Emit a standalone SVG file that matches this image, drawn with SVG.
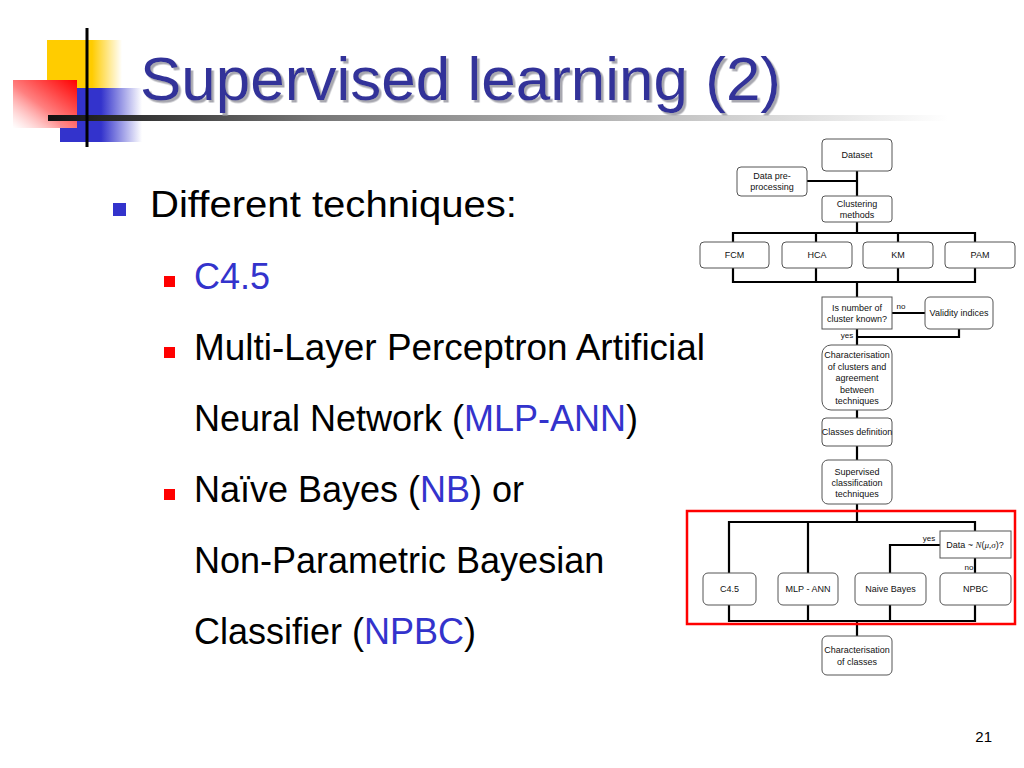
<svg xmlns="http://www.w3.org/2000/svg" width="1024" height="768" viewBox="0 0 1024 768">
<defs>
<linearGradient id="gY" x1="0" y1="0" x2="1" y2="0"><stop offset="0" stop-color="#FFCC00"/><stop offset="0.6" stop-color="#FFCC00"/><stop offset="1" stop-color="#FFCC00" stop-opacity="0"/></linearGradient>
<linearGradient id="gB" x1="0" y1="0" x2="1" y2="0"><stop offset="0" stop-color="#3333CC"/><stop offset="0.5" stop-color="#3333CC"/><stop offset="1" stop-color="#3333CC" stop-opacity="0"/></linearGradient>
<linearGradient id="gR" x1="1" y1="0" x2="0" y2="1"><stop offset="0" stop-color="#FF0000"/><stop offset="0.55" stop-color="#FF8080"/><stop offset="1" stop-color="#FFFFFF" stop-opacity="0.6"/></linearGradient>
<linearGradient id="gL" x1="0" y1="0" x2="1" y2="0"><stop offset="0" stop-color="#111111"/><stop offset="0.3" stop-color="#777777"/><stop offset="1" stop-color="#FFFFFF"/></linearGradient>
<filter id="shadow" x="-5%" y="-20%" width="110%" height="140%"><feDropShadow dx="2.5" dy="2.5" stdDeviation="0.6" flood-color="#A8A8B0" flood-opacity="1"/></filter>
<style>
.title{font-family:"Liberation Sans",Arial,sans-serif;font-size:62px;fill:#333399}
.body{font-family:"Liberation Sans",Arial,sans-serif;font-size:36px;fill:#000}
.hl{fill:#3333CC}
.box{fill:#fff;stroke:#555;stroke-width:1}
.fc{font-family:"Liberation Sans Narrow","Arial Narrow","Liberation Sans",sans-serif;font-size:9px;fill:#111;text-anchor:middle}
.lbl{font-family:"Liberation Sans Narrow","Arial Narrow","Liberation Sans",sans-serif;font-size:8px;fill:#111;text-anchor:middle}
.conn{fill:none;stroke:#000;stroke-width:2.2;stroke-linecap:square}
</style>
</defs>
<rect width="1024" height="768" fill="#fff"/>
<g id="decoration">
<rect x="47" y="40" width="75" height="48" fill="url(#gY)"/>
<rect x="60" y="88" width="82" height="54" fill="url(#gB)"/>
<rect x="13" y="80" width="64" height="48" fill="url(#gR)"/>
<rect x="48" y="115" width="900" height="6" fill="url(#gL)"/>
<rect x="85.5" y="28" width="3" height="119" fill="#000"/>
</g>
<g id="title">
<text class="title" x="140" y="100" filter="url(#shadow)">Supervised learning (2)</text>
</g>
<g id="bullets">
<rect x="113" y="203" width="13" height="13" fill="#3333CC"/>
<text class="body" x="150" y="217" font-size="38" textLength="367" lengthAdjust="spacingAndGlyphs">Different techniques:</text>
<rect x="164" y="276" width="11" height="11" fill="#FF0000"/>
<text class="body hl" x="194" y="289">C4.5</text>
<rect x="164" y="347" width="11" height="11" fill="#FF0000"/>
<text class="body" x="194" y="360" textLength="511" lengthAdjust="spacingAndGlyphs">Multi-Layer Perceptron Artificial</text>
<text class="body" x="194" y="431">Neural Network (<tspan class="hl">MLP-ANN</tspan>)</text>
<rect x="164" y="489" width="11" height="11" fill="#FF0000"/>
<text class="body" x="194" y="502">Naïve Bayes (<tspan class="hl">NB</tspan>) or</text>
<text class="body" x="194" y="573">Non-Parametric Bayesian</text>
<text class="body" x="194" y="644">Classifier (<tspan class="hl">NPBC</tspan>)</text>
</g>
<g id="connectors">
<path class="conn" d="M857 171V196M807 181H857M857 222V233M733 233H975M733 233V242M816 233V242M898 233V242M975 233V242M733 268V282M816 268V282M898 268V282M975 268V282M733 282H975M857 282V297M892 313H925M959 329V337H857M857 329V345M857 410V418M857 446V460M857 504V522M729 522H975M729 522V573M808 522V573M975 522V531M940 545H890V573M975 558V573M729 605V621M808 605V621M890 605V621M975 605V621M729 621H975M857 621V636"/>
</g>
<g id="n-dataset"><rect class="box" x="822" y="139" width="70" height="32" rx="4"/><text class="fc" x="857" y="158">Dataset</text></g>
<g id="n-preproc"><rect class="box" x="737" y="167" width="70" height="29" rx="4"/><text class="fc" x="772" y="179">Data pre-</text><text class="fc" x="772" y="190">processing</text></g>
<g id="n-clustering"><rect class="box" x="822" y="196" width="70" height="26" rx="3"/><text class="fc" x="857" y="207">Clustering</text><text class="fc" x="857" y="218">methods</text></g>
<g id="n-fcm"><rect class="box" x="700" y="242" width="69" height="26" rx="4"/><text class="fc" x="734.5" y="258">FCM</text></g>
<g id="n-hca"><rect class="box" x="782" y="242" width="70" height="26" rx="4"/><text class="fc" x="817" y="258">HCA</text></g>
<g id="n-km"><rect class="box" x="863" y="242" width="70" height="26" rx="4"/><text class="fc" x="898" y="258">KM</text></g>
<g id="n-pam"><rect class="box" x="945" y="242" width="70" height="26" rx="4"/><text class="fc" x="980" y="258">PAM</text></g>
<g id="n-known"><rect class="box" x="822" y="297" width="70" height="32"/><text class="fc" x="857" y="311">Is number of</text><text class="fc" x="857" y="322">cluster known?</text></g>
<text class="lbl" x="901" y="309">no</text>
<text class="lbl" x="847" y="338">yes</text>
<g id="n-validity"><rect class="box" x="925" y="297" width="68" height="32" rx="5"/><text class="fc" x="959" y="316">Validity indices</text></g>
<g id="n-charclusters"><rect class="box" x="822" y="345" width="70" height="65" rx="9"/><text class="fc" x="857" y="358">Characterisation</text><text class="fc" x="857" y="369.5">of clusters and</text><text class="fc" x="857" y="381">agreement</text><text class="fc" x="857" y="392.5">between</text><text class="fc" x="857" y="404">techniques</text></g>
<g id="n-classes"><rect class="box" x="822" y="418" width="70" height="28" rx="4"/><text class="fc" x="857" y="435">Classes definition</text></g>
<g id="n-supervised"><rect class="box" x="822" y="460" width="70" height="44" rx="6"/><text class="fc" x="857" y="474.5">Supervised</text><text class="fc" x="857" y="485.5">classification</text><text class="fc" x="857" y="497">techniques</text></g>
<rect id="highlight" x="687" y="511" width="328" height="113" fill="none" stroke="#FF0000" stroke-width="2.5"/>
<g id="n-normal"><rect class="box" x="940" y="531" width="71" height="27"/><text class="fc" x="975" y="548">Data ~ <tspan font-family="Liberation Serif,serif" font-style="italic">N</tspan>(<tspan font-family="Liberation Serif,serif" font-style="italic">μ,σ</tspan>)?</text></g>
<text class="lbl" x="929" y="541">yes</text>
<text class="lbl" x="969" y="570">no</text>
<g id="n-c45"><rect class="box" x="703" y="573" width="53" height="32" rx="5"/><text class="fc" x="729.5" y="592">C4.5</text></g>
<g id="n-mlp"><rect class="box" x="778" y="573" width="60" height="32" rx="5"/><text class="fc" x="808" y="592">MLP - ANN</text></g>
<g id="n-nb"><rect class="box" x="855" y="573" width="71" height="32" rx="5"/><text class="fc" x="890.5" y="592">Naive Bayes</text></g>
<g id="n-npbc"><rect class="box" x="940" y="573" width="71" height="32" rx="5"/><text class="fc" x="975.5" y="592">NPBC</text></g>
<g id="n-charclasses"><rect class="box" x="822" y="636" width="70" height="39" rx="5"/><text class="fc" x="857" y="653">Characterisation</text><text class="fc" x="857" y="665">of classes</text></g>
<text x="992" y="742" text-anchor="end" font-family="Liberation Sans,Arial,sans-serif" font-size="15" fill="#000">21</text>
</svg>
